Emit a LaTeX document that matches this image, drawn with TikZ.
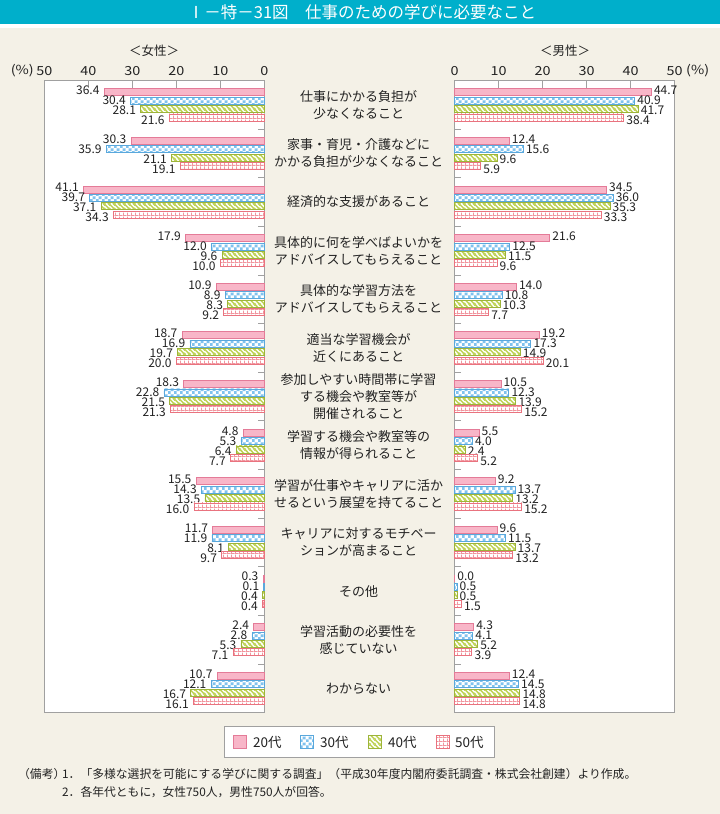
\documentclass[tikz,border=0pt]{standalone}
\usepackage{fontspec}
\setmainfont{Noto Sans CJK JP}
\newfontfamily\tickfont[FakeStretch=1.15]{Noto Sans CJK JP}
\usetikzlibrary{patterns.meta}
\definecolor{titlebg}{HTML}{00AFCB}
\definecolor{cream}{HTML}{F4F1E7}
\definecolor{pinkF}{HTML}{F8B6C8}
\definecolor{pinkD}{HTML}{E47B98}
\definecolor{blueF}{HTML}{80C2EE}
\definecolor{blueD}{HTML}{5AA8DC}
\definecolor{greenF}{HTML}{BFD356}
\definecolor{greenD}{HTML}{9DB43A}
\definecolor{redF}{HTML}{F1959E}
\definecolor{redD}{HTML}{E9737F}
\definecolor{framec}{HTML}{A0A0A0}
\definecolor{txt}{HTML}{222222}
\tikzdeclarepattern{name=chkpat, type=colored, bottom left={(0pt,0pt)}, top right={(6pt,6pt)}, tile size={(6pt,6pt)},
  code={\fill[white] (0pt,0pt) rectangle (6pt,6pt); \fill[blueF] (0pt,0pt) rectangle (3pt,3pt); \fill[blueF] (3pt,3pt) rectangle (6pt,6pt);}}
\tikzdeclarepattern{name=diagpat, type=colored, bottom left={(0pt,0pt)}, top right={(5pt,5pt)}, tile size={(5pt,5pt)},
  code={\fill[white] (0pt,0pt) rectangle (5pt,5pt);
    \draw[greenF, line width=1.7pt] (-1pt,6pt) -- (6pt,-1pt);
    \draw[greenF, line width=1.7pt] (-1pt,1pt) -- (1pt,-1pt);
    \draw[greenF, line width=1.7pt] (4pt,6pt) -- (6pt,4pt);}}
\tikzdeclarepattern{name=gridpat, type=colored, bottom left={(0pt,0pt)}, top right={(3.6pt,3.6pt)}, tile size={(3.6pt,3.6pt)},
  code={\fill[white] (0pt,0pt) rectangle (3.6pt,3.6pt); \fill[redF] (0pt,0pt) rectangle (3.6pt,1pt); \fill[redF] (0pt,0pt) rectangle (1pt,3.6pt);}}
\newcommand\wbar[5]{%
  \pgfmathsetmacro\yc{#2+(#3-1.5)*8.4}%
  \pgfmathsetmacro\yl{#2-14.5+#3*10}%
  \pgfmathsetmacro\xl{264.3-#4*4.4}%
  \path[#1] (\xl,\yc-3.5) rectangle (264.3,\yc+3.5);%
  \node[vlab,anchor=east] (#5) at (\xl-4.5,\yl) {#4};%
}
\newcommand\mbar[5]{%
  \pgfmathsetmacro\yc{#2+(#3-1.5)*8.4}%
  \pgfmathsetmacro\yl{#2-14.5+#3*10}%
  \pgfmathsetmacro\xr{454.7+#4*4.4}%
  \path[#1] (454.7,\yc-3.5) rectangle (\xr,\yc+3.5);%
  \node[vlab,anchor=west] (#5) at (\xr+2.5,\yl) {#4};%
}
\begin{document}
\begin{tikzpicture}[x=1pt,y=-1pt,
  bar0/.style={fill=pinkF, draw=pinkD, line width=0.8pt},
  bar1/.style={pattern=chkpat, draw=blueD, line width=0.8pt},
  bar2/.style={pattern=diagpat, draw=greenD, line width=0.8pt},
  bar3/.style={pattern=gridpat, draw=redD, line width=0.8pt},
  vlab/.style={font=\fontsize{12}{12}\selectfont, inner sep=0pt, text=txt, text height=8.6pt, text depth=0pt},
  ticklab/.style={font=\tickfont\fontsize{12.5}{12.5}\selectfont, inner sep=0pt, text=txt},
  catlab/.style={font=\fontsize{13}{17}\selectfont, align=center, inner sep=0pt, text=txt},
  headlab/.style={font=\fontsize{12.5}{12.5}\selectfont, inner sep=0pt, text=txt},
  leglab/.style={font=\fontsize{13.5}{13.5}\selectfont, inner sep=0pt, text=txt, anchor=west},
  notelab/.style={font=\fontsize{11.8}{11.8}\selectfont, inner sep=0pt, text=txt, anchor=west},
  framebox/.style={draw=framec, line width=0.9pt, fill=white},
  tickline/.style={draw=framec, line width=0.9pt}]
\useasboundingbox (0,0) rectangle (720,814);
\fill[cream] (0,0) rectangle (720,814);
\fill[titlebg] (0,0) rectangle (720,24);
\fill[white] (0,24) rectangle (720,28);
\node[font=\fontsize{16.5}{16.5}\selectfont, text=white, inner sep=0pt] (title) at (362,12.5) {Ⅰ－特－31図　仕事のための学びに必要なこと};
% headers
\node[headlab] (hw) at (154,51) {＜女性＞};
\node[headlab] (hm) at (565,51) {＜男性＞};
% frames
\path[framebox] (44.3,80.5) rectangle (264.3,712.7);
\path[framebox] (454.7,80.5) rectangle (674.7,712.7);
% tick labels
\foreach \i in {0,...,5} {
  \pgfmathtruncatemacro\lbl{10*\i}
  \node[ticklab] (tw\i) at (264.3-44*\i,71) {\lbl};
  \node[ticklab] (tm\i) at (454.7+44*\i,71) {\lbl};
}
\foreach \i in {1,...,4} {
  \path[tickline] (264.3-44*\i,80.5) -- (264.3-44*\i,87.5);
  \path[tickline] (454.7+44*\i,80.5) -- (454.7+44*\i,87.5);
}
\node[ticklab, anchor=east] (pw) at (34,71) {(\%)};
\node[ticklab, anchor=west] (pm) at (686,71) {(\%)};
% group boundary ticks
\foreach \i in {1,...,12} {
  \path[tickline] (258,80.5+48.632*\i) -- (264.3,80.5+48.632*\i);
  \path[tickline] (454.7,80.5+48.632*\i) -- (461,80.5+48.632*\i);
}
% women bars
\foreach [count=\g from 0] \va/\vb/\vc/\vd in {36.4/30.4/28.1/21.6, 30.3/35.9/21.1/19.1, 41.1/39.7/37.1/34.3, 17.9/12.0/9.6/10.0, 10.9/8.9/8.3/9.2, 18.7/16.9/19.7/20.0, 18.3/22.8/21.5/21.3, 4.8/5.3/6.4/7.7, 15.5/14.3/13.5/16.0, 11.7/11.9/8.1/9.7, 0.3/0.1/0.4/0.4, 2.4/2.8/5.3/7.1, 10.7/12.1/16.7/16.1} {
  \pgfmathsetmacro\gc{80.5+48.632*(\g+0.5)}
  \wbar{bar0}{\gc}{0}{\va}{wa\g}
  \wbar{bar1}{\gc}{1}{\vb}{wb\g}
  \wbar{bar2}{\gc}{2}{\vc}{wc\g}
  \wbar{bar3}{\gc}{3}{\vd}{wd\g}
}
% men bars
\foreach [count=\g from 0] \va/\vb/\vc/\vd in {44.7/40.9/41.7/38.4, 12.4/15.6/9.6/5.9, 34.5/36.0/35.3/33.3, 21.6/12.5/11.5/9.6, 14.0/10.8/10.3/7.7, 19.2/17.3/14.9/20.1, 10.5/12.3/13.9/15.2, 5.5/4.0/2.4/5.2, 9.2/13.7/13.2/15.2, 9.6/11.5/13.7/13.2, 0.0/0.5/0.5/1.5, 4.3/4.1/5.2/3.9, 12.4/14.5/14.8/14.8} {
  \pgfmathsetmacro\gc{80.5+48.632*(\g+0.5)}
  \mbar{bar0}{\gc}{0}{\va}{ma\g}
  \mbar{bar1}{\gc}{1}{\vb}{mb\g}
  \mbar{bar2}{\gc}{2}{\vc}{mc\g}
  \mbar{bar3}{\gc}{3}{\vd}{md\g}
}
% category labels
\foreach [count=\g from 0] \lab in {{仕事にかかる負担が\\少なくなること}, {家事・育児・介護などに\\かかる負担が少なくなること}, {経済的な支援があること}, {具体的に何を学べばよいかを\\アドバイスしてもらえること}, {具体的な学習方法を\\アドバイスしてもらえること}, {適当な学習機会が\\近くにあること}, {参加しやすい時間帯に学習\\する機会や教室等が\\開催されること}, {学習する機会や教室等の\\情報が得られること}, {学習が仕事やキャリアに活か\\せるという展望を持てること}, {キャリアに対するモチベー\\ションが高まること}, {その他}, {学習活動の必要性を\\感じていない}, {わからない}} {
  \pgfmathsetmacro\gc{80.5+48.632*(\g+0.5)}
  \node[catlab] (cat\g) at (358.5,\gc) {\lab};
}
% legend
\path[framebox] (224,726) rectangle (494,757);
\path[bar0] (233.5,735.5) rectangle (246.5,748.5);
\node[leglab] (l0) at (253,742) {20代};
\path[bar1] (300.5,735.5) rectangle (313.5,748.5);
\node[leglab] (l1) at (320,742) {30代};
\path[bar2] (368,735.5) rectangle (381,748.5);
\node[leglab] (l2) at (388,742) {40代};
\path[bar3] (436,735.5) rectangle (449,748.5);
\node[leglab] (l3) at (455,742) {50代};
% notes
\node[notelab] (n0) at (18,774) {（備考）};
\node[notelab] (n1) at (62,774) {1．「多様な選択を可能にする学びに関する調査」（平成30年度内閣府委託調査・株式会社創建）より作成。};
\node[notelab] (n2) at (62,792) {2．各年代ともに，女性750人，男性750人が回答。};
\end{tikzpicture}
\end{document}
